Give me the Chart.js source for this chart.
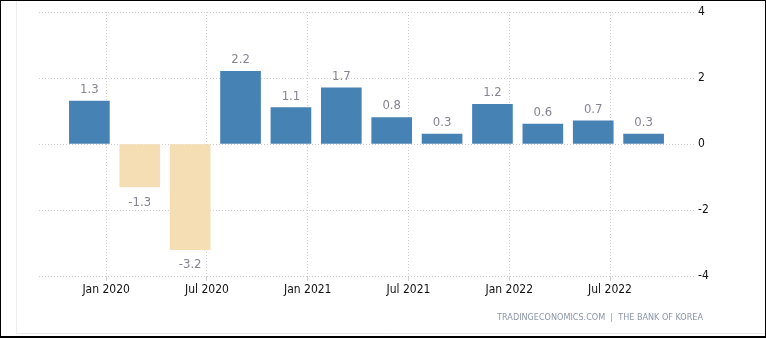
<!DOCTYPE html>
<html>
<head>
<meta charset="utf-8">
<script src="https://cdn.jsdelivr.net/npm/chart.js@4/dist/chart.umd.min.js"></script>
<style>
	body { margin: 0; background: #fff; }
	#wrap { position: relative; width: 766px; height: 338px; }
	#wrap canvas { position: absolute; left: 0; top: 0; }
	#frame { position: absolute; left: 0; top: 0; width: 766px; height: 338px; box-sizing: border-box;
		border: 1px solid #000; border-bottom-width: 2px; pointer-events: none; }
</style>
</head>
<body>
<div id="wrap">
	<canvas id="myChart" width="766" height="338"></canvas>
	<div id="frame"></div>
</div>
<script>
// 분기별 GDP 성장률 (전기 대비, %)
var quarters = ['2019-12', '2020-03', '2020-06', '2020-09', '2020-12', '2021-03',
	'2021-06', '2021-09', '2021-12', '2022-03', '2022-06', '2022-09'];
var growth = [1.3, -1.3, -3.2, 2.2, 1.1, 1.7, 0.8, 0.3, 1.2, 0.6, 0.7, 0.3];

var tickDates = ['2020-01', '2020-07', '2021-01', '2021-07', '2022-01', '2022-07'];
var tickLabels = ['Jan 2020', 'Jul 2020', 'Jan 2021', 'Jul 2021', 'Jan 2022', 'Jul 2022'];
var yTicks = [-4, -2, 0, 2, 4];

var FONT = '"DejaVu Sans Condensed", "DejaVu Sans", sans-serif';

// 2020년 1월 기준 개월 수
function monthIndex(s) {
	var p = s.split('-');
	return (parseInt(p[0]) - 2020) * 12 + (parseInt(p[1]) - 1);
}

var points = [];
for (let i = 0; i < quarters.length; i++) {
	points.push({ x: monthIndex(quarters[i]), y: growth[i] });
}
var tickMonths = tickDates.map(monthIndex);

// 막대 위/아래 값 표시
var valueLabels = {
	id: 'valueLabels',
	afterDatasetsDraw: function(chart) {
		var ctx = chart.ctx;
		var meta = chart.getDatasetMeta(0);
		ctx.save();
		ctx.font = '13px ' + FONT;
		ctx.fillStyle = '#858592';
		ctx.textAlign = 'center';
		meta.data.forEach(function(bar, i) {
			var v = growth[i];
			if (v >= 0) {
				ctx.textBaseline = 'bottom';
				ctx.fillText(v.toFixed(1), bar.x, bar.y - 5);
			} else {
				ctx.textBaseline = 'top';
				ctx.fillText(v.toFixed(1), bar.x, bar.y + 9);
			}
		});
		ctx.restore();
	}
};

// 바깥 테두리 선과 출처 문구
var decoration = {
	id: 'decoration',
	beforeDraw: function(chart) {
		var ctx = chart.ctx;
		ctx.save();
		ctx.strokeStyle = '#ececec';
		ctx.lineWidth = 1;
		ctx.beginPath();
		ctx.moveTo(16.5, 1);
		ctx.lineTo(16.5, 333.5);
		ctx.lineTo(766, 333.5);
		ctx.stroke();
		ctx.restore();
	},
	afterDraw: function(chart) {
		var ctx = chart.ctx;
		ctx.save();
		ctx.font = '9px ' + FONT;
		ctx.fillStyle = '#8a96aa';
		ctx.textAlign = 'right';
		ctx.textBaseline = 'middle';
		ctx.fillText('TRADINGECONOMICS.COM  |  THE BANK OF KOREA', 703, 318);
		ctx.restore();
	}
};

var ctx = document.getElementById('myChart').getContext('2d');
var myChart = new Chart(ctx, {
	type: 'bar',
	data: {
		datasets: [{
			data: points,
			backgroundColor: growth.map(function(v) { return v >= 0 ? '#4682b4' : '#f5deb3'; }),
			barThickness: 40
		}]
	},
	options: {
		responsive: false,
		animation: false,
		layout: { padding: { left: 39, top: 12, right: 0, bottom: 0 } },
		plugins: {
			legend: { display: false },
			tooltip: { enabled: false }
		},
		scales: {
			x: {
				type: 'linear',
				min: -4,
				max: 35,
				offset: false,
				afterBuildTicks: function(scale) {
					scale.ticks = tickMonths.map(function(m) { return { value: m }; });
				},
				afterFit: function(scale) { scale.height = 62; },
				grid: {
					offset: false,
					color: '#cfcfcf',
					tickLength: 5,
					tickColor: '#cfcfcf'
				},
				border: { display: false, dash: [1, 2] },
				ticks: {
					autoSkip: false,
					maxRotation: 0,
					padding: 2,
					color: '#111',
					font: { family: FONT, size: 12 },
					callback: function(value) {
						var i = tickMonths.indexOf(value);
						return i >= 0 ? tickLabels[i] : '';
					}
				}
			},
			y: {
				position: 'right',
				min: -4,
				max: 4,
				afterBuildTicks: function(scale) {
					scale.ticks = yTicks.map(function(v) { return { value: v }; });
				},
				afterFit: function(scale) { scale.width = 72; },
				grid: {
					color: '#cfcfcf',
					drawTicks: false
				},
				border: { display: false, dash: [1, 2] },
				ticks: {
					padding: 4,
					color: '#111',
					font: { family: FONT, size: 12 }
				}
			}
		}
	},
	plugins: [valueLabels, decoration]
});
</script>
</body>
</html>
